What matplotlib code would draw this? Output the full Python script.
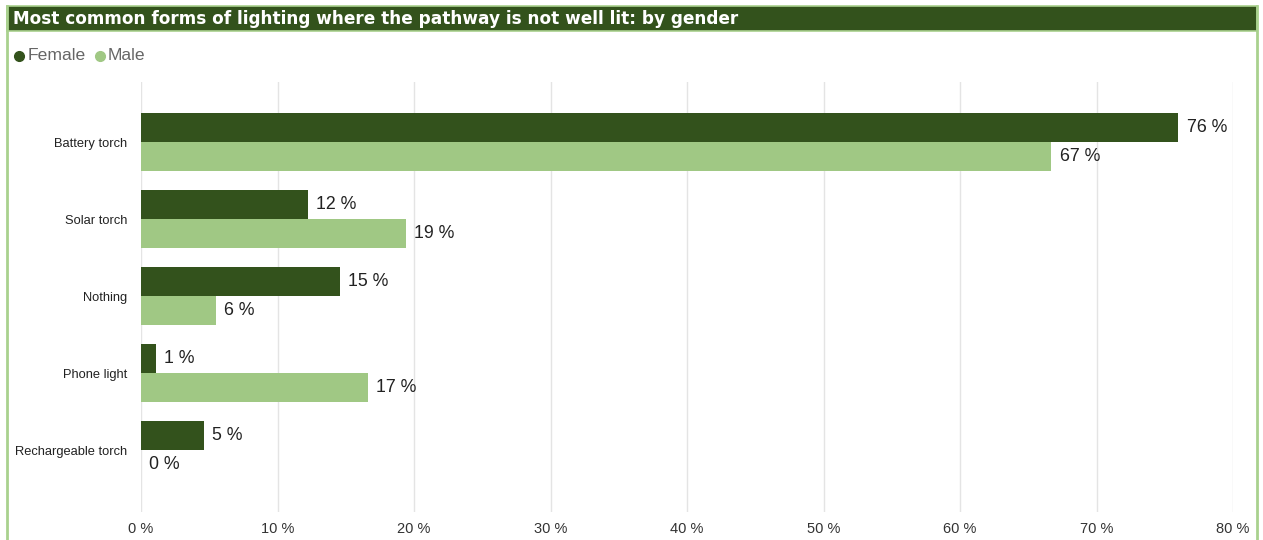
import matplotlib.pyplot as plt
from matplotlib.patches import Rectangle
from matplotlib.lines import Line2D

categories = ['Battery torch', 'Solar torch', 'Nothing', 'Phone light', 'Rechargeable torch']
female = [76.0, 12.2, 14.6, 1.1, 4.6]
male = [66.7, 19.4, 5.5, 16.6, 0.0]
xticks = [0, 10, 20, 30, 40, 50, 60, 70, 80]

DARK = '#33521c'
LIGHT = '#a0c884'
FRAME = '#a9d18e'

W, H = 1263, 540
fig = plt.figure(figsize=(W / 100, H / 100), dpi=100)
plt.rcParams['font.family'] = ['Liberation Sans', 'DejaVu Sans']


def fx(px):
    return px / W


def fy(py):
    return 1 - py / H


# outer frame and title bar
fig.add_artist(Line2D([fx(7), fx(7)], [fy(6), 0], color=FRAME, lw=2))
fig.add_artist(Line2D([fx(1257), fx(1257)], [fy(6), 0], color=FRAME, lw=2))
fig.add_artist(Rectangle((fx(7), fy(31)), fx(1250), 25 / H, facecolor=DARK,
                         edgecolor=FRAME, lw=1.2))
fig.text(fx(13), fy(19), 'Most common forms of lighting where the pathway is not well lit: by gender',
         color='white', fontsize=12.2, fontweight='bold', va='center', ha='left',
         family='DejaVu Sans')

# legend
fig.add_artist(Line2D([fx(19)], [fy(56)], marker='o', ms=7, color=DARK, lw=0))
fig.text(fx(28), fy(55), 'Female', color='#666666', fontsize=12.6, va='center')
fig.add_artist(Line2D([fx(100)], [fy(56)], marker='o', ms=7, color=LIGHT, lw=0))
fig.text(fx(108), fy(55), 'Male', color='#666666', fontsize=12.6, va='center')

ax = fig.add_axes([fx(141), 1 - 512 / H, (1233 - 141) / W, (512 - 82) / H])
y = list(range(len(categories)))
h = 0.377
ax.barh([i - h / 2 for i in y], female, height=h, color=DARK, zorder=3)
ax.barh([i + h / 2 for i in y], male, height=h, color=LIGHT, zorder=3)

for i in y:
    ax.text(female[i] + 0.6, i - h / 2, f'{female[i]:.0f} %', va='center', ha='left',
            fontsize=12.8, color='#222222')
    ax.text(male[i] + 0.6, i + h / 2, f'{male[i]:.0f} %', va='center', ha='left',
            fontsize=12.8, color='#222222')

ax.set_xlim(0, 80)
ax.set_ylim(4.8, -0.78)
ax.set_xticks(xticks)
ax.set_xticklabels([f'{t} %' for t in xticks], fontsize=10.5, color='#333333')
ax.set_yticks(y)
ax.set_yticklabels(categories, fontsize=9.3, color='#222222')
ax.tick_params(axis='both', length=0)
ax.tick_params(axis='x', pad=7)
ax.tick_params(axis='y', pad=10)
ax.grid(axis='x', color='#e4e4e4', lw=1, zorder=0)
for s in ax.spines.values():
    s.set_visible(False)

fig.savefig('out.png', dpi=100)
